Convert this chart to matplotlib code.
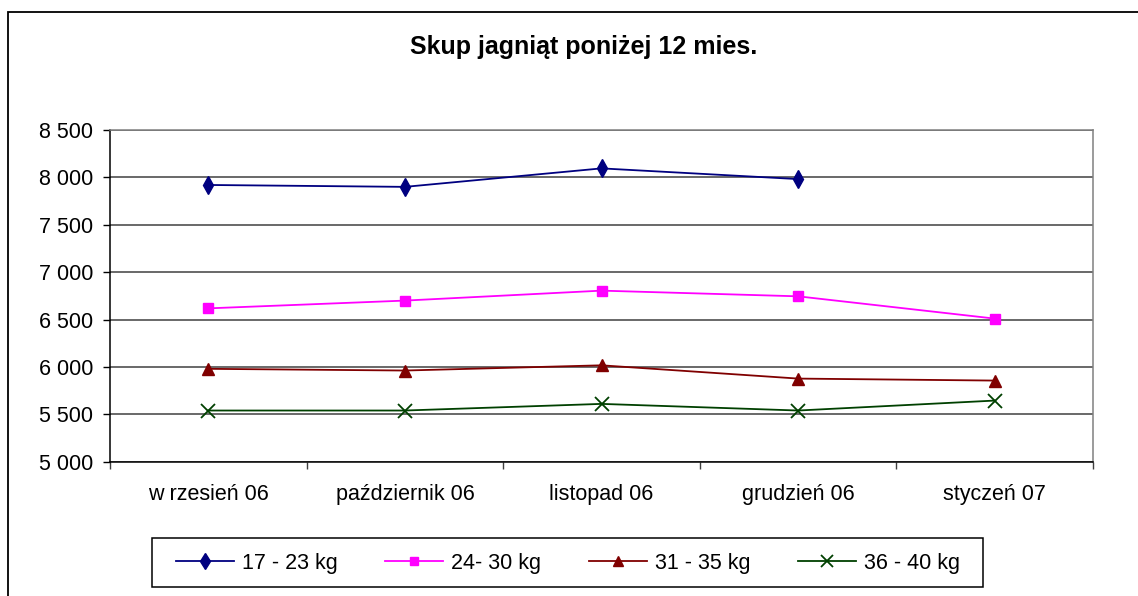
import matplotlib
matplotlib.use("Agg")
import matplotlib.pyplot as plt
from matplotlib.patches import Rectangle
import numpy as np

plt.rcParams['font.family'] = ['Liberation Sans', 'DejaVu Sans']

title = "Skup jagniąt poniżej 12 mies."
categories = ["w rzesień 06", "październik 06", "listopad 06", "grudzień 06", "styczeń 07"]
series_names = ["17 - 23 kg", "24- 30 kg", "31 - 35 kg", "36 - 40 kg"]
s1 = [7920, 7900, 8095, 7982, np.nan]
s2 = [6618, 6700, 6805, 6745, 6510]
s3 = [5980, 5962, 6017, 5877, 5856]
s4 = [5540, 5540, 5610, 5540, 5645]
yticks = [5000, 5500, 6000, 6500, 7000, 7500, 8000, 8500]
ytick_labels = ["5 000", "5 500", "6 000", "6 500", "7 000", "7 500", "8 000", "8 500"]

W, H = 1138, 596
fig = plt.figure(figsize=(W / 100, H / 100), dpi=100)
fig.patch.set_facecolor("white")

# outer chart border
fig.add_artist(Rectangle((8 / W, -0.1), 1.2, (H - 12) / H + 0.1, transform=fig.transFigure,
                         fill=False, edgecolor="black", linewidth=1.3))

ax = fig.add_axes([110 / W, 1 - 461.7 / H, (1093 - 110) / W, (461.7 - 130) / H])
x = np.arange(len(categories))

styles = [
    dict(color="#000080", marker="d", markersize=9),
    dict(color="#FF00FF", marker="s", markersize=7),
    dict(color="#800000", marker="^", markersize=8),
    dict(color="#004000", marker="x", markersize=10, markeredgewidth=1.3),
]
for name, vals, st in zip(series_names, [s1, s2, s3, s4], styles):
    ax.plot(x, vals, label=name, linewidth=1.3, **st)

ax.set_xlim(-0.5, len(categories) - 0.5)
ax.set_ylim(5000, 8500)
ax.set_yticks(yticks)
ax.set_yticklabels(ytick_labels, fontsize=15.5)
ax.set_xticks(x)
ax.set_xticklabels(categories, fontsize=15.5)
ax.set_xticks(np.arange(-0.5, len(categories), 1.0), minor=True)
ax.tick_params(axis="x", which="major", length=0, pad=16)
ax.tick_params(axis="x", which="minor", length=5, width=1, direction="out", color="#404040")
ax.tick_params(axis="y", length=5, width=1, direction="out", pad=7)

ax.grid(axis="y", color="#404040", linewidth=1.1)
ax.set_axisbelow(True)
ax.spines["left"].set_color("black")
ax.spines["bottom"].set_color("black")
ax.spines["top"].set_color("#808080")
ax.spines["right"].set_color("#808080")
for sp in ax.spines.values():
    sp.set_linewidth(1.1)

fig.text(584 / W, 1 - 47 / H, title, ha="center", va="center", fontsize=18, fontweight="bold")

# legend box
fig.add_artist(Rectangle((152 / W, 1 - 587 / H), (983 - 152) / W, (587 - 538) / H,
                         transform=fig.transFigure, fill=False, edgecolor="black", linewidth=1.1))
leg = fig.legend(loc="center", bbox_to_anchor=(568 / W, 1 - 563 / H), ncol=4, fontsize=15.5,
                 frameon=False, handlelength=2.7, columnspacing=2.2, handletextpad=0.37,
                 borderpad=0.0, markerscale=0.85)

fig.savefig("out.png", dpi=100, facecolor="white")
